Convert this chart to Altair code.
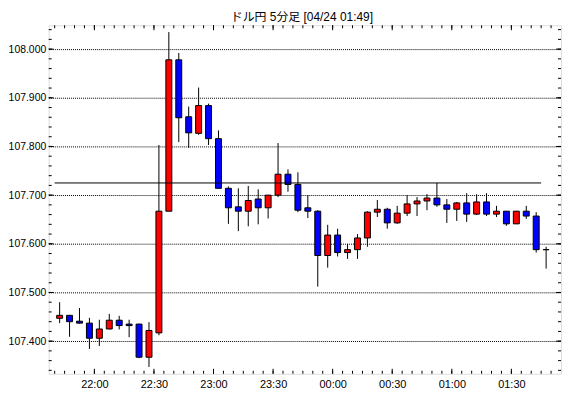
import altair as alt
import pandas as pd
import numpy as np

# ---- data ----
times = ["21:40", "21:45", "21:50", "21:55", "22:00", "22:05", "22:10", "22:15", "22:20", "22:25",
         "22:30", "22:35", "22:40", "22:45", "22:50", "22:55", "23:00", "23:05", "23:10", "23:15",
         "23:20", "23:25", "23:30", "23:35", "23:40", "23:45", "23:50", "23:55", "00:00", "00:05",
         "00:10", "00:15", "00:20", "00:25", "00:30", "00:35", "00:40", "00:45", "00:50", "00:55",
         "01:00", "01:05", "01:10", "01:15", "01:20", "01:25", "01:30", "01:35", "01:40", "01:45"]
open_ = [107.447, 107.453, 107.441, 107.437, 107.406, 107.425, 107.443, 107.435, 107.435, 107.367,
         107.417, 107.667, 107.978, 107.861, 107.827, 107.884, 107.816, 107.714, 107.676, 107.667,
         107.692, 107.674, 107.700, 107.743, 107.722, 107.674, 107.667, 107.576, 107.618, 107.582,
         107.588, 107.612, 107.665, 107.671, 107.643, 107.663, 107.682, 107.688, 107.694, 107.680,
         107.671, 107.684, 107.661, 107.686, 107.661, 107.667, 107.641, 107.667, 107.657, 107.588]
high = [107.480, 107.454, 107.468, 107.448, 107.444, 107.456, 107.452, 107.444, 107.436, 107.439,
        107.803, 108.035, 107.992, 107.882, 107.921, 107.888, 107.833, 107.718, 107.714, 107.719,
        107.712, 107.700, 107.807, 107.753, 107.747, 107.700, 107.669, 107.639, 107.631, 107.600,
        107.620, 107.667, 107.690, 107.674, 107.678, 107.700, 107.696, 107.702, 107.725, 107.692,
        107.686, 107.704, 107.702, 107.704, 107.678, 107.667, 107.667, 107.678, 107.665, 107.594]
low = [107.437, 107.409, 107.436, 107.384, 107.390, 107.424, 107.424, 107.408, 107.365, 107.347,
       107.412, 107.667, 107.809, 107.797, 107.824, 107.803, 107.714, 107.641, 107.626, 107.636,
       107.640, 107.652, 107.696, 107.707, 107.665, 107.653, 107.512, 107.551, 107.574, 107.569,
       107.569, 107.594, 107.655, 107.631, 107.641, 107.657, 107.657, 107.669, 107.676, 107.643,
       107.647, 107.645, 107.659, 107.657, 107.655, 107.637, 107.641, 107.651, 107.582, 107.549]
close = [107.453, 107.440, 107.437, 107.406, 107.425, 107.443, 107.432, 107.432, 107.367, 107.422,
         107.667, 107.978, 107.859, 107.828, 107.884, 107.816, 107.714, 107.674, 107.667, 107.689,
         107.674, 107.700, 107.743, 107.722, 107.669, 107.667, 107.576, 107.618, 107.582, 107.588,
         107.612, 107.665, 107.671, 107.643, 107.663, 107.682, 107.688, 107.694, 107.680, 107.671,
         107.684, 107.661, 107.686, 107.661, 107.667, 107.641, 107.667, 107.657, 107.588, 107.588]

ref_level = 107.725
ref_start = "21:40"
ref_end = "01:45"

title_text = "ドル円 5分足 [04/24 01:49]"
x_label_times = ["22:00", "22:30", "23:00", "23:30", "00:00", "00:30", "01:00", "01:30"]
y_major = [107.4, 107.5, 107.6, 107.7, 107.8, 107.9, 108.0]


def to_ts(hm):
    h, m = map(int, hm.split(":"))
    day = 23 if h >= 12 else 24
    return pd.Timestamp(2020, 4, day, h, m)


starts = [to_ts(t) for t in times]
df = pd.DataFrame({
    "t": [s + pd.Timedelta(minutes=2.5) for s in starts],
    "open": open_, "high": high, "low": low, "close": close,
})

ref_df = pd.DataFrame({"t": [to_ts(ref_start)], "t2": [to_ts(ref_end)], "v": [ref_level]})
title_df = pd.DataFrame({"label": [title_text]})

minor_x = pd.DataFrame({"t": pd.date_range(to_ts("21:40"), to_ts("01:50"), freq="5min")})
major_x = pd.DataFrame({"t": [to_ts(t) for t in x_label_times]})
minor_y = pd.DataFrame({"v": np.round(np.arange(107.34, 108.041, 0.02), 2)})
major_y = pd.DataFrame({"v": y_major})

W, H = 516, 351
FONT = "Liberation Sans"

xscale = alt.Scale(domain=[alt.DateTime(year=2020, month=4, date=23, hours=21, minutes=37),
                           alt.DateTime(year=2020, month=4, date=24, hours=1, minutes=55)],
                   padding=0, nice=False)
yscale = alt.Scale(domain=[107.333, 108.049], zero=False, nice=False, padding=0)

xaxis = alt.Axis(values=[alt.DateTime(year=2020, month=4, date=(23 if int(t[:2]) >= 12 else 24),
                                      hours=int(t[:2]), minutes=int(t[3:])) for t in x_label_times],
                 format="%H:%M", grid=False, ticks=False, domain=False, labelPadding=5,
                 labelFont=FONT, labelFontSize=11, labelColor="black", title=None)
yaxis = alt.Axis(values=y_major, format=".3f", grid=True, gridDash=[1, 1], gridColor="black",
                 gridOpacity=1, ticks=False, domain=False, labelPadding=3, labelFont=FONT,
                 labelFontSize=10.5, labelColor="black", title=None)


def X(f):
    return alt.X(f, type="temporal", scale=xscale, axis=xaxis, title=None)


def Y(f):
    return alt.Y(f, type="quantitative", scale=yscale, axis=yaxis, title=None)


wicks = alt.Chart(df).mark_rule(color="black", strokeWidth=1).encode(
    x=X("t"), y=Y("low"), y2="high")

bodies = alt.Chart(df).mark_bar(size=6, stroke="black", strokeWidth=1, opacity=1).encode(
    x=X("t"), y=Y("open"), y2="close",
    color=alt.condition("datum.close >= datum.open", alt.value("#ff0000"), alt.value("#0000ff")))

ref = alt.Chart(ref_df).mark_rule(color="black", strokeWidth=1).encode(
    x=X("t"), x2="t2", y=Y("v"))

title = alt.Chart(title_df).mark_text(
    font="Liberation Sans, Noto Sans CJK JP", fontSize=12, color="black", align="center",
    baseline="middle"
).encode(x=alt.value(W / 2 - 3), y=alt.value(-8), text="label:N")

tick_layers = [
    alt.Chart(minor_x).mark_rule(color="black").encode(x=X("t"), y=alt.value(H), y2=alt.value(H - 3)),
    alt.Chart(major_x).mark_rule(color="black").encode(x=X("t"), y=alt.value(H), y2=alt.value(H - 5)),
    alt.Chart(minor_x).mark_rule(color="black").encode(x=X("t"), y=alt.value(0), y2=alt.value(3)),
    alt.Chart(major_x).mark_rule(color="black").encode(x=X("t"), y=alt.value(0), y2=alt.value(5)),
    alt.Chart(minor_y).mark_rule(color="black").encode(y=Y("v"), x=alt.value(0), x2=alt.value(3)),
    alt.Chart(major_y).mark_rule(color="black").encode(y=Y("v"), x=alt.value(0), x2=alt.value(5)),
    alt.Chart(minor_y).mark_rule(color="black").encode(y=Y("v"), x=alt.value(W), x2=alt.value(W - 3)),
    alt.Chart(major_y).mark_rule(color="black").encode(y=Y("v"), x=alt.value(W), x2=alt.value(W - 5)),
]

chart = alt.layer(wicks, bodies, ref, title, *tick_layers).properties(
    width=W, height=H,
    autosize=alt.AutoSizeParams(type="none"),
    padding={"left": 41, "top": 16, "right": 1, "bottom": 20},
).configure_view(stroke="black", strokeWidth=1).configure(background="white")

chart.save("out.html", embed_options={"renderer": "svg", "actions": False})
